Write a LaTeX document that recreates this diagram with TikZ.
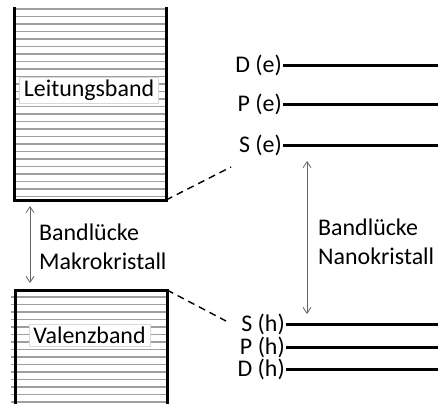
\documentclass[tikz,border=0pt]{standalone}
\usepackage{fontspec}
\setmainfont{Carlito}
\usetikzlibrary{arrows.meta}
\begin{document}
\begin{tikzpicture}[x=1bp,y=-1bp,
  every node/.style={font=\fontsize{24}{29}\selectfont},
  bandedge/.style={line width=3bp,black},
  hatch/.style={line width=1.5bp,gray!75},
  bandlabel/.style={fill=white,draw=gray!30,line width=0.6bp,inner xsep=4.5bp,inner ysep=2.5bp},
  lvl/.style={anchor=east,inner sep=1bp},
  levelline/.style={line width=3bp,black},
  gaparrow/.style={gray!80!black,line width=0.8bp,{Straight Barb[length=6bp,width=8bp]}-{Straight Barb[length=6bp,width=8bp]}},
  connector/.style={dashed,line width=1.4bp,dash pattern=on 7bp off 5bp},
  gaptext/.style={anchor=west,align=left,inner sep=0pt}]
\useasboundingbox (0,0) rectangle (438,403);
% conduction band
\foreach \yy in {9,16.5,...,197} \draw[hatch] (14,\yy) -- (166,\yy);
\draw[bandedge] (14,7) -- (14,200) -- (166,200) -- (166,7);
\coordinate (cbSE) at (166,200);
\node[bandlabel] (cb) at (89,90) {Leitungsband};
% valence band
\foreach \yy in {297,304.5,...,404} \draw[hatch] (11,\yy) -- (167,\yy);
\draw[bandedge] (15,410) -- (15,290) -- (167,290) -- (167,410);
\coordinate (vbNE) at (167,290);
\node[bandlabel] (vb) at (89.5,335) {Valenzband};
% gap macro
\coordinate (gmTop) at (30,206);
\coordinate (gmBot) at (30,283);
\draw[gaparrow] (gmTop) -- (gmBot);
\node[gaptext] (gmText) at (39,247) {Bandlücke\\Makrokristall};
% levels
\node[lvl] (De) at (283,65) {D (e)};
\node[lvl] (Pe) at (283,104) {P (e)};
\node[lvl] (Se) at (283,145) {S (e)};
\node[lvl] (Sh) at (286,324) {S (h)};
\node[lvl] (Ph) at (286,347) {P (h)};
\node[lvl] (Dh) at (286,369) {D (h)};
\foreach \n in {De,Pe,Se,Sh,Ph,Dh} {
  \coordinate (\n R) at (440,0 |- \n.east);
  \draw[levelline] (\n.east) -- (\n R);
}
% connectors
\coordinate (SeL) at (231,167);
\coordinate (ShL) at (226,321);
\draw[connector] (cbSE) -- (SeL);
\draw[connector] (vbNE) -- (ShL);
% gap nano
\coordinate (gnTop) at (307,161);
\coordinate (gnBot) at (307,314);
\draw[gaparrow] (gnTop) -- (gnBot);
\node[gaptext] (gnText) at (318,242) {Bandlücke\\Nanokristall};
\end{tikzpicture}
\end{document}
